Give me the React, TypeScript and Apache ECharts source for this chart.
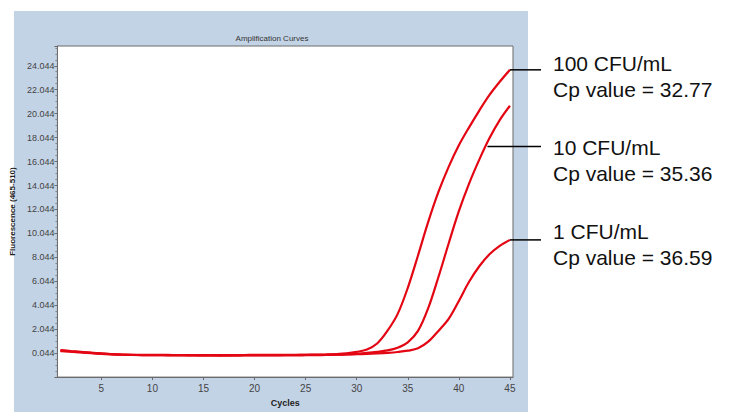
import React, { useEffect, useRef } from "react";
import * as echarts from "echarts";

const cycles = [1, 2, 3, 4, 5, 6, 7, 8, 9, 10, 11, 12, 13, 14, 15, 16, 17, 18, 19, 20, 21, 22, 23, 24, 25, 26, 27, 28, 29, 30, 31, 32, 33, 34, 35, 36, 37, 38, 39, 40, 41, 42, 43, 44, 45];

const cfu100 = [0.3, 0.22, 0.15, 0.08, 0.02, -0.03, -0.07, -0.09, -0.1, -0.1, -0.1, -0.11, -0.11, -0.11, -0.12, -0.12, -0.12, -0.11, -0.11, -0.1, -0.1, -0.1, -0.1, -0.1, -0.09, -0.08, -0.06, -0.03, 0.03, 0.15, 0.35, 0.85, 1.9, 3.3, 5.5, 8.2, 11.0, 13.5, 15.6, 17.4, 18.9, 20.3, 21.6, 22.7, 23.7];
const cfu10 = [0.25, 0.18, 0.12, 0.06, 0.0, -0.05, -0.08, -0.1, -0.12, -0.13, -0.13, -0.14, -0.14, -0.14, -0.15, -0.15, -0.16, -0.16, -0.15, -0.15, -0.15, -0.14, -0.14, -0.14, -0.13, -0.12, -0.11, -0.09, -0.06, -0.01, 0.06, 0.15, 0.27, 0.5, 0.95, 1.9, 3.8, 6.4, 9.2, 11.9, 14.2, 16.2, 18.0, 19.5, 20.7];
const cfu1 = [0.22, 0.16, 0.1, 0.04, -0.02, -0.06, -0.09, -0.11, -0.12, -0.12, -0.13, -0.13, -0.13, -0.14, -0.14, -0.14, -0.13, -0.13, -0.13, -0.12, -0.12, -0.12, -0.11, -0.11, -0.1, -0.1, -0.09, -0.08, -0.07, -0.05, -0.02, 0.02, 0.07, 0.14, 0.25, 0.45, 1.0, 1.9, 2.9, 4.4, 6.0, 7.3, 8.3, 9.0, 9.5];

const seriesNames = ["100 CFU/mL", "10 CFU/mL", "1 CFU/mL"];
const cpValues = ["32.77", "35.36", "36.59"];
const anchorCycles = [45, 42.8, 45];
const anchorValues = [23.7, 17.3, 9.5];
const yTickMin = -1.956;
const yTickStep = 2;

const RED = "#e30613";

export default function App() {
  const ref = useRef<HTMLDivElement>(null);
  useEffect(() => {
    if (!ref.current) return;
    const chart = echarts.init(ref.current, null, { renderer: "svg" });
    const allSeries = [cfu100, cfu10, cfu1];
    const labelFont = "'Liberation Sans Narrow', 'Arial Narrow', 'Liberation Sans', sans-serif";
    chart.setOption({
      animation: false,
      backgroundColor: "#ffffff",
      title: {
        text: "Amplification Curves",
        left: 267,
        top: 29,
        textAlign: "center",
        textStyle: { fontSize: 8, fontWeight: "normal", color: "#333", fontFamily: "'Liberation Sans', Arial, sans-serif" },
      },
      grid: {
        left: 55,
        top: 46,
        right: 218,
        bottom: 28,
        show: true,
        backgroundColor: "#ffffff",
        borderColor: "#6b6b6b",
        borderWidth: 1,
      },
      xAxis: {
        type: "value",
        min: 0.7,
        max: 45.3,
        splitNumber: 9,
        name: "Cycles",
        nameLocation: "middle",
        nameGap: 20,
        nameTextStyle: { fontSize: 9, fontWeight: "bold", color: "#222", fontFamily: labelFont },
        axisLine: { show: true, onZero: false, lineStyle: { color: "#6b6b6b" } },
        axisTick: { show: true, length: 3, lineStyle: { color: "#6b6b6b" } },
        axisLabel: { showMinLabel: false, showMaxLabel: false, fontSize: 10, color: "#444", margin: 6, fontFamily: labelFont },
        splitLine: { show: false },
      },
      yAxis: {
        type: "value",
        min: yTickMin,
        max: 25.69,
        interval: yTickStep,
        name: "Fluorescence (465-510)",
        nameLocation: "middle",
        nameGap: 30,
        nameTextStyle: { fontSize: 8, fontWeight: "bold", color: "#222", fontFamily: "'Liberation Sans', Arial, sans-serif" },
        axisLine: { show: true, onZero: false, lineStyle: { color: "#6b6b6b" } },
        axisTick: { show: true, length: 3, lineStyle: { color: "#6b6b6b" } },
        minorTick: { show: true, splitNumber: 4, length: 2, lineStyle: { color: "#888" } },
        axisLabel: {
          fontSize: 9,
          color: "#444",
          margin: 3,
          fontFamily: labelFont,
          showMinLabel: false,
          showMaxLabel: false,
          formatter: (v: number) => {
            const k = Math.round((v - yTickMin) / yTickStep);
            const t = yTickMin + k * yTickStep;
            return t < 0 || t > 25 ? "" : t.toFixed(3);
          },
        },
        splitLine: { show: false },
      },
      series: allSeries.map((vals, i) => ({
        name: seriesNames[i],
        type: "line",
        data: cycles.map((c, j) => [c, vals[j]]),
        smooth: 0.35,
        showSymbol: false,
        symbol: "none",
        lineStyle: { color: RED, width: 2.2 },
        z: 3,
      })),
    });

    const textX = 553;
    const textTops = [50, 134, 218];
    const elements: any[] = [
      {
        type: "rect",
        shape: { x: 14, y: 11, width: 514, height: 410 },
        style: { fill: "#c3d3e6" },
        z: -10,
        silent: true,
      },
    ];
    allSeries.forEach((vals, i) => {
      const p = chart.convertToPixel({ gridIndex: 0 } as any, [anchorCycles[i], anchorValues[i]]) as number[];
      elements.push({
        type: "line",
        shape: { x1: p[0], y1: p[1], x2: 541, y2: p[1] },
        style: { stroke: "#000", lineWidth: 1.5 },
        z: 10,
      });
      elements.push({
        type: "text",
        x: textX,
        y: textTops[i],
        style: {
          text: seriesNames[i] + "\nCp value = " + cpValues[i],
          font: "21px 'Liberation Sans', Arial, sans-serif",
          lineHeight: 26,
          fill: "#111",
        },
        z: 10,
      });
    });
    chart.setOption({ graphic: { elements } });
    return () => chart.dispose();
  }, []);
  return (
    <div
      ref={ref}
      style={{ position: "fixed", left: 0, top: 0, width: 731, height: 412 }}
    />
  );
}
